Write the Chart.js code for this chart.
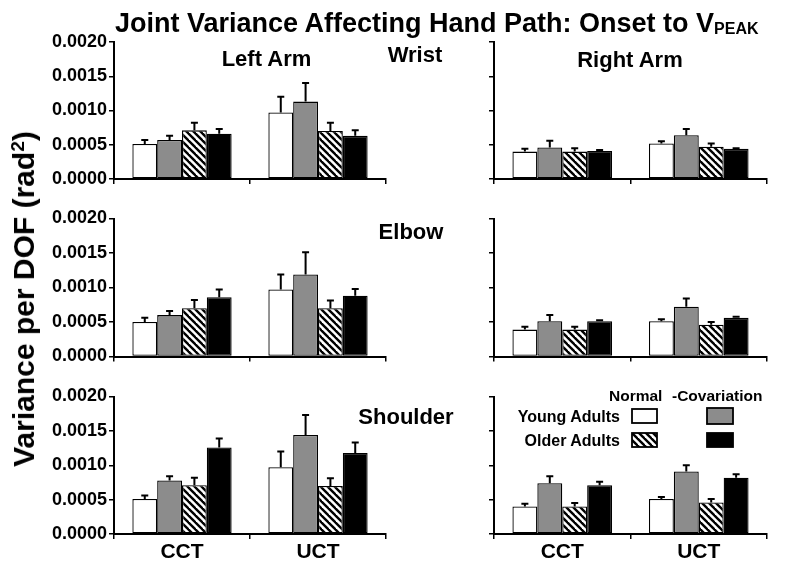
<!DOCTYPE html>
<html><head><meta charset="utf-8">
<script src="https://cdn.jsdelivr.net/npm/chart.js@4"></script>
<style>
html,body{margin:0;padding:0;background:#fff;}
#wrap{position:relative;width:800px;height:569px;overflow:hidden;font-family:"Liberation Sans",Arial,sans-serif;font-weight:bold;color:#000;}
canvas{position:absolute;}
.t{position:absolute;white-space:nowrap;line-height:1;}
.c{text-align:center;width:300px;}
</style></head><body>
<div id="wrap">
<canvas id="lw" width="400" height="180" style="left:0;top:22px"></canvas>
<canvas id="rw" width="400" height="180" style="left:400px;top:22px"></canvas>
<canvas id="le" width="400" height="180" style="left:0;top:198px"></canvas>
<canvas id="re" width="400" height="180" style="left:400px;top:198px"></canvas>
<canvas id="ls" width="400" height="193" style="left:0;top:376px"></canvas>
<canvas id="rs" width="400" height="193" style="left:400px;top:376px"></canvas>

<div class="t" style="left:115px;top:9.6px;font-size:27px">Joint Variance Affecting Hand Path: Onset to V<span style="font-size:16px;vertical-align:-2px;line-height:0">PEAK</span></div>
<div class="t" style="left:24px;top:299px;font-size:30px;transform:translate(-50%,-50%) rotate(-90deg)">Variance per DOF (rad<span style="font-size:19px;vertical-align:10px;line-height:0">2</span>)</div>
<div class="t c" style="left:116.5px;top:48.4px;font-size:22px">Left Arm</div>
<div class="t c" style="left:265px;top:44.4px;font-size:22px">Wrist</div>
<div class="t c" style="left:480px;top:49.4px;font-size:22px">Right Arm</div>
<div class="t c" style="left:261px;top:221.4px;font-size:22px">Elbow</div>
<div class="t c" style="left:256px;top:406.4px;font-size:22px">Shoulder</div>
<div class="t" style="left:609px;top:388px;font-size:15.5px">Normal</div>
<div class="t" style="left:672px;top:388px;font-size:15.5px">-Covariation</div>
<div class="t" style="right:180px;top:408.5px;font-size:16px">Young Adults</div>
<div class="t" style="right:180px;top:432.5px;font-size:16px">Older Adults</div>
</div>
<script>
// ---- data ----
const categories = ['CCT', 'UCT'];
const seriesNames = ['Young Adults Normal', 'Young Adults -Covariation', 'Older Adults Normal', 'Older Adults -Covariation'];
const yTickValues = [0, 0.0005, 0.0010, 0.0015, 0.0020];

// rows = series (YN, YC, ON, OC), columns = categories (CCT, UCT)
const leftWristMean  = [[0.00051, 0.00097], [0.00057, 0.00113], [0.00071, 0.00070], [0.00066, 0.00063]];
const leftWristErr   = [[0.00006, 0.00023], [0.00006, 0.00027], [0.00011, 0.00012], [0.00007, 0.00008]];
const rightWristMean = [[0.00040, 0.00052], [0.00046, 0.00064], [0.00040, 0.00047], [0.00041, 0.00044]];
const rightWristErr  = [[0.00004, 0.00003], [0.00010, 0.00009], [0.00005, 0.00005], [0.000015, 0.00001]];
const leftElbowMean  = [[0.00050, 0.00097], [0.00060, 0.00119], [0.00070, 0.00070], [0.00086, 0.00088]];
const leftElbowErr   = [[0.00006, 0.00022], [0.00006, 0.00032], [0.00012, 0.00011], [0.00011, 0.00010]];
const rightElbowMean = [[0.00039, 0.00051], [0.00051, 0.00072], [0.00039, 0.00046], [0.00051, 0.00056]];
const rightElbowErr  = [[0.00004, 0.00003], [0.00009, 0.00012], [0.00004, 0.00004], [0.000015, 0.000015]];
const leftShoulderMean  = [[0.00051, 0.00097], [0.00078, 0.00144], [0.00071, 0.00070], [0.00126, 0.00118]];
const leftShoulderErr   = [[0.00005, 0.00023], [0.00006, 0.00029], [0.00011, 0.00011], [0.00013, 0.00015]];
const rightShoulderMean = [[0.00040, 0.00051], [0.00074, 0.00091], [0.00040, 0.00046], [0.00071, 0.00082]];
const rightShoulderErr  = [[0.00004, 0.00003], [0.00010, 0.00009], [0.00005, 0.00005], [0.00005, 0.00005]];

// ---- drawing ----
const FONT = '"Liberation Sans", Arial, sans-serif';

function hatchPattern(ctx) {
  const s = 7, c = document.createElement('canvas');
  c.width = s; c.height = s;
  const g = c.getContext('2d');
  g.fillStyle = '#fff'; g.fillRect(0, 0, s, s);
  g.strokeStyle = '#000'; g.lineWidth = 2.4;
  for (const x0 of [-s, 0, s]) {
    g.beginPath(); g.moveTo(x0 - 1, -1); g.lineTo(x0 + s + 1, s + 1); g.stroke();
  }
  return ctx.createPattern(c, 'repeat');
}

const errorBarPlugin = {
  id: 'errbars',
  afterDatasetsDraw(chart) {
    const ctx = chart.ctx, ys = chart.scales.y;
    ctx.save();
    ctx.strokeStyle = '#000'; ctx.lineWidth = 2;
    chart.data.datasets.forEach((ds, i) => {
      chart.getDatasetMeta(i).data.forEach((bar, j) => {
        const top = ys.getPixelForValue(ds.data[j] + ds.errors[j]);
        ctx.beginPath();
        ctx.moveTo(bar.x, bar.y); ctx.lineTo(bar.x, top);
        ctx.moveTo(bar.x - 3.5, top); ctx.lineTo(bar.x + 3.5, top);
        ctx.stroke();
      });
    });
    ctx.restore();
  }
};

const legendSwatchPlugin = {
  id: 'swatches',
  afterDraw(chart, args, opts) {
    if (!opts || !opts.show) return;
    const ctx = chart.ctx;
    const fills = chart.data.datasets.map(d => d.backgroundColor);
    const boxes = [[232, 33, 25, 14], [307, 32, 26, 16], [232, 57, 25, 14], [307, 57, 26, 14]];
    ctx.save();
    ctx.lineWidth = 1.8; ctx.strokeStyle = '#000';
    boxes.forEach((b, i) => {
      ctx.fillStyle = fills[i];
      ctx.fillRect(b[0], b[1], b[2], b[3]);
      ctx.strokeRect(b[0], b[1], b[2], b[3]);
    });
    ctx.restore();
  }
};

function makeChart(id, means, errs, opt) {
  const canvas = document.getElementById(id);
  const ctx = canvas.getContext('2d');
  const fills = ['#ffffff', '#8c8c8c', hatchPattern(ctx), '#000000'];
  return new Chart(ctx, {
    type: 'bar',
    data: {
      labels: categories,
      datasets: seriesNames.map((n, i) => ({
        label: n, data: means[i], errors: errs[i],
        backgroundColor: fills[i], borderColor: '#000', borderWidth: 1.3, borderSkipped: false,
        categoryPercentage: 0.73, barPercentage: 1.0
      }))
    },
    options: {
      responsive: false, animation: false, devicePixelRatio: 1,
      layout: { padding: { top: opt.padTop, right: opt.padRight, left: 0, bottom: 0 } },
      plugins: { legend: { display: false }, tooltip: { enabled: false }, swatches: { show: !!opt.legend } },
      scales: {
        x: {
          offset: true,
          grid: { offset: true, drawOnChartArea: false, drawTicks: true, tickLength: 5, color: '#000', lineWidth: 1.5 },
          border: { display: true, color: '#000', width: 2 },
          ticks: { display: !!opt.showX, color: '#000', padding: 1, maxRotation: 0, font: { family: FONT, size: 21, weight: 'bold' } },
          afterFit: s => { s.height = opt.xH; }
        },
        y: {
          min: 0, max: 0.002,
          afterBuildTicks: s => { s.ticks = yTickValues.map(v => ({ value: v })); },
          grid: { drawOnChartArea: false, drawTicks: true, tickLength: 5, color: '#000', lineWidth: 1.5 },
          border: { display: true, color: '#000', width: 2 },
          ticks: { display: !!opt.showY, color: '#000', padding: 2, font: { family: FONT, size: 18, weight: 'bold' },
                   callback: v => Number(v).toFixed(4) },
          afterFit: s => { s.width = opt.yW; }
        }
      }
    },
    plugins: [errorBarPlugin, legendSwatchPlugin]
  });
}

makeChart('lw', leftWristMean, leftWristErr, { padTop: 20, padRight: 14, xH: 23, yW: 114, showY: true });
makeChart('rw', rightWristMean, rightWristErr, { padTop: 20, padRight: 33, xH: 23, yW: 94 });
makeChart('le', leftElbowMean, leftElbowErr, { padTop: 20.5, padRight: 14, xH: 21.5, yW: 114, showY: true });
makeChart('re', rightElbowMean, rightElbowErr, { padTop: 20.5, padRight: 33, xH: 21.5, yW: 94 });
makeChart('ls', leftShoulderMean, leftShoulderErr, { padTop: 20.5, padRight: 14, xH: 35, yW: 114, showY: true, showX: true });
makeChart('rs', rightShoulderMean, rightShoulderErr, { padTop: 20.5, padRight: 33, xH: 35, yW: 94, showX: true, legend: true });
</script>
</body></html>
